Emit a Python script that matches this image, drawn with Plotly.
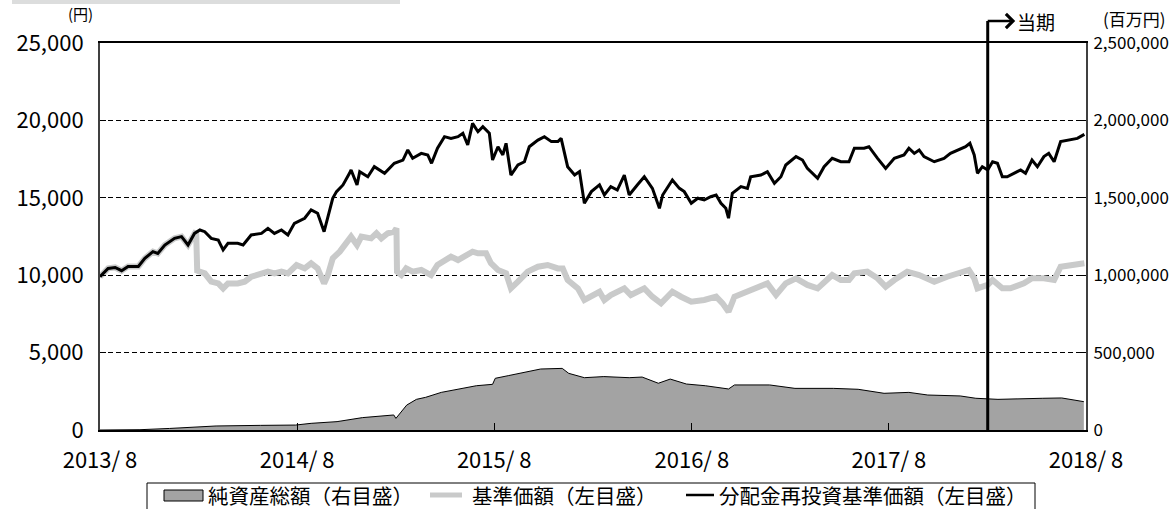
import plotly.graph_objects as go

# ---------------- data ----------------
BLACK_DATES = [
    "2013-08-01", "2013-08-16", "2013-08-29", "2013-09-10", "2013-09-22", "2013-10-11", "2013-10-23",
    "2013-11-07", "2013-11-16", "2013-11-29", "2013-12-17", "2013-12-30",
    "2014-01-11", "2014-01-23", "2014-02-02", "2014-02-11", "2014-02-23", "2014-03-08", "2014-03-17",
    "2014-03-26", "2014-04-13", "2014-04-23", "2014-05-08", "2014-05-27", "2014-06-08", "2014-06-20",
    "2014-07-03", "2014-07-15", "2014-07-27", "2014-08-15", "2014-08-27", "2014-09-08", "2014-09-20",
    "2014-09-27", "2014-10-06", "2014-10-13", "2014-10-25", "2014-11-06", "2014-11-09", "2014-11-20",
    "2014-11-25", "2014-12-10", "2014-12-22",
    "2015-01-10", "2015-01-28", "2015-02-13", "2015-02-22", "2015-03-03", "2015-03-19", "2015-03-31",
    "2015-04-07", "2015-04-18", "2015-05-01", "2015-05-13", "2015-05-26", "2015-06-04", "2015-06-13",
    "2015-06-22", "2015-07-02", "2015-07-11", "2015-07-23", "2015-07-29", "2015-08-08", "2015-08-17",
    "2015-08-23", "2015-09-01", "2015-09-14", "2015-09-26", "2015-10-05", "2015-10-21", "2015-11-02",
    "2015-11-15", "2015-11-27", "2015-12-03", "2015-12-15", "2015-12-28",
    "2016-01-06", "2016-01-15", "2016-01-28", "2016-02-12", "2016-02-21", "2016-03-04", "2016-03-16",
    "2016-03-29", "2016-04-07", "2016-04-22", "2016-05-05", "2016-05-20", "2016-06-02", "2016-06-08",
    "2016-06-26", "2016-07-09", "2016-07-18", "2016-07-31", "2016-08-12", "2016-08-24", "2016-09-05",
    "2016-09-15", "2016-09-24", "2016-10-03", "2016-10-08", "2016-10-15", "2016-10-31", "2016-11-12",
    "2016-11-18", "2016-12-07", "2016-12-19",
    "2017-01-01", "2017-01-13", "2017-01-22", "2017-02-10", "2017-02-22", "2017-03-03", "2017-03-22",
    "2017-04-03", "2017-04-18", "2017-05-04", "2017-05-19", "2017-05-29", "2017-06-16", "2017-06-25",
    "2017-07-11", "2017-07-26", "2017-08-11", "2017-08-29", "2017-09-07", "2017-09-17", "2017-09-26",
    "2017-10-05", "2017-10-24", "2017-11-11", "2017-11-23", "2017-12-09", "2017-12-21", "2017-12-29",
    "2018-01-06", "2018-01-12", "2018-01-21", "2018-01-31", "2018-02-09", "2018-02-18", "2018-02-27",
    "2018-03-08", "2018-03-21", "2018-04-02", "2018-04-11", "2018-04-23", "2018-05-03", "2018-05-15",
    "2018-05-24", "2018-06-03", "2018-06-15", "2018-07-03", "2018-07-16", "2018-07-29",
]
# 分配金再投資基準価額 (円)
BLACK_VALUES = [
    9900, 10440, 10500, 10290, 10570, 10570, 11090, 11520, 11410, 11950, 12380, 12490,
    11950, 12700, 12920, 12810, 12380, 12270, 11630, 12060, 12060, 11950, 12600, 12700, 13030, 12700,
    12920, 12600, 13350, 13680, 14220, 14000, 12810, 13680, 14970, 15400, 15830, 16580, 16800, 15830,
    16690, 16360, 17010,
    16580, 17230, 17440, 18090, 17550, 17870, 17770, 17230, 18200, 18950, 18840, 18950, 19170, 18410,
    19810, 19270, 19590, 19170, 17440, 18300, 17770, 18520, 16470, 17120, 17330, 18300, 18730, 18950,
    18630, 18630, 18840, 17010, 16470,
    16690, 14650, 15400, 15830, 15180, 15720, 15500, 16470, 15180, 15830, 16360, 15610, 14320, 15180,
    16150, 15610, 15400, 14650, 14970, 14860, 15070, 15180, 14650, 14320, 13680, 15290, 15720, 15610,
    16360, 16470, 16690,
    15940, 16360, 17120, 17660, 17440, 16900, 16260, 17010, 17550, 17330, 17330, 18200, 18200, 18300,
    17550, 16900, 17550, 17770, 18200, 17870, 18090, 17660, 17330, 17550, 17870, 18090, 18300, 18520,
    17770, 16580, 17010, 16800, 17330, 17230, 16360, 16360, 16580, 16800, 16580, 17440, 17010, 17660,
    17870, 17330, 18630, 18730, 18840, 19100,
]

GRAY_DATES = [
    "2013-08-01", "2013-08-16", "2013-08-29", "2013-09-10", "2013-09-22", "2013-10-11", "2013-10-23",
    "2013-11-07", "2013-11-16", "2013-11-29", "2013-12-17", "2013-12-30",
    "2014-01-11", "2014-01-23", "2014-01-26", "2014-01-28", "2014-02-11", "2014-02-23", "2014-03-08",
    "2014-03-17", "2014-03-26", "2014-04-13", "2014-04-26", "2014-05-08", "2014-05-27", "2014-06-08",
    "2014-06-20", "2014-07-03", "2014-07-15", "2014-07-31", "2014-08-15", "2014-08-27", "2014-09-08",
    "2014-09-20", "2014-09-27", "2014-10-06", "2014-10-19", "2014-11-06", "2014-11-09", "2014-11-20",
    "2014-11-28", "2014-12-16", "2014-12-26",
    "2015-01-04", "2015-01-16", "2015-01-28", "2015-02-01", "2015-02-02", "2015-02-10", "2015-02-19",
    "2015-03-03", "2015-03-19", "2015-04-06", "2015-04-18", "2015-05-01", "2015-05-13", "2015-05-26",
    "2015-06-07", "2015-06-22", "2015-07-02", "2015-07-17", "2015-07-26", "2015-08-08", "2015-08-23",
    "2015-09-01", "2015-09-14", "2015-10-02", "2015-10-21", "2015-11-08", "2015-11-27", "2015-12-06",
    "2015-12-15",
    "2016-01-03", "2016-01-15", "2016-01-31", "2016-02-12", "2016-02-21", "2016-03-04", "2016-03-29",
    "2016-04-10", "2016-05-05", "2016-05-20", "2016-06-05", "2016-06-26", "2016-07-12", "2016-07-31",
    "2016-08-24", "2016-09-15", "2016-09-27", "2016-10-08", "2016-10-19", "2016-11-12", "2016-12-01",
    "2016-12-19",
    "2017-01-04", "2017-01-22", "2017-02-10", "2017-03-03", "2017-03-22", "2017-04-18", "2017-05-04",
    "2017-05-19", "2017-05-29", "2017-06-22", "2017-07-11", "2017-07-26", "2017-08-11", "2017-09-04",
    "2017-09-26", "2017-10-24", "2017-11-17", "2017-12-09", "2017-12-27",
    "2018-01-06", "2018-01-12", "2018-01-31", "2018-02-09", "2018-02-27", "2018-03-14", "2018-04-08",
    "2018-04-23", "2018-05-15", "2018-06-03", "2018-06-15", "2018-07-10", "2018-07-29",
]
# 基準価額 (円)
GRAY_VALUES = [
    9900, 10440, 10500, 10290, 10570, 10570, 11090, 11520, 11410, 11950, 12380, 12490,
    11950, 12700, 12850, 10290, 10120, 9580, 9470, 9150, 9470, 9470, 9580, 9900, 10120, 10230,
    10120, 10230, 10120, 10660, 10440, 10770, 10440, 9470, 10010, 11090, 11520, 12270, 12490, 11950,
    12490, 12380, 12710,
    12380, 12710, 12810, 13030, 10230, 10010, 10440, 10230, 10340, 10010, 10660, 10980, 11200, 10980,
    11200, 11520, 11410, 11410, 10770, 10340, 10120, 9150, 9580, 10230, 10550, 10660, 10440, 10440,
    9690,
    9150, 8400, 8720, 8930, 8400, 8720, 9150, 8720, 9150, 8610, 8180, 8930, 8610, 8290,
    8400, 8610, 8180, 7640, 8610, 8930, 9150, 9470,
    8720, 9470, 9800, 9370, 9150, 10010, 9690, 9690, 10120, 10230, 9800, 9260, 9690, 10230,
    10010, 9580, 9900, 10120, 10340,
    9800, 9150, 9370, 9690, 9150, 9150, 9470, 9800, 9800, 9690, 10550, 10660, 10770,
]

NAV_DATES = [
    "2013-08-01", "2013-10-14", "2013-12-08", "2014-03-04", "2014-05-25", "2014-07-29", "2014-08-27",
    "2014-10-14", "2014-11-30", "2015-01-27", "2015-01-31", "2015-02-08", "2015-02-20", "2015-03-10",
    "2015-03-27", "2015-04-25", "2015-05-25", "2015-06-29", "2015-07-29", "2015-08-03", "2015-08-27",
    "2015-10-01", "2015-10-26", "2015-12-05", "2015-12-17", "2016-01-15", "2016-02-20", "2016-04-07",
    "2016-05-01", "2016-05-31", "2016-06-22", "2016-07-22", "2016-08-26", "2016-10-08", "2016-10-19",
    "2016-12-23", "2017-02-08", "2017-04-20", "2017-06-05", "2017-07-23", "2017-09-07", "2017-10-12",
    "2017-12-11", "2018-01-09", "2018-02-19", "2018-05-13", "2018-06-17", "2018-07-28",
]
# 純資産総額 (百万円)
NAV_VALUES = [
    0, 2000, 10000, 26000, 30000, 32000, 43000,
    54000, 80000, 97000, 75000, 108000, 161000, 198000,
    211000, 243000, 263000, 286000, 295000, 334000, 351000,
    377000, 394000, 398000, 366000, 338000, 345000, 338000,
    342000, 302000, 329000, 297000, 286000, 265000, 291000,
    291000, 269000, 269000, 263000, 237000, 243000, 226000,
    220000, 205000, 198000, 205000, 207000, 183000,
]

PERIOD_START = "2018-01-31"  # 当期 の開始

X_TICKS = ["2013-08-01", "2014-08-01", "2015-08-01", "2016-08-01", "2017-08-01", "2018-08-01"]
X_TICK_LABELS = ["2013/ 8", "2014/ 8", "2015/ 8", "2016/ 8", "2017/ 8", "2018/ 8"]
Y_TICKS = [0, 5000, 10000, 15000, 20000, 25000]
Y_TICK_LABELS = ["0", "5,000", "10,000", "15,000", "20,000", "25,000"]
Y2_TICKS = [0, 500000, 1000000, 1500000, 2000000, 2500000]
Y2_TICK_LABELS = ["0", "500,000", "1,000,000", "1,500,000", "2,000,000", "2,500,000"]

NAMES = ["純資産総額（右目盛）", "基準価額（左目盛）", "分配金再投資基準価額（左目盛）"]

# ---------------- figure ----------------
FONT = "Noto Sans CJK JP"
AREA_FILL = "#a3a3a3"
GRAY = "#c9caca"

# plot area in pixels (for placing decorations in paper coordinates)
L, R, T, B = 100, 1086, 43, 430
PW, PH = R - L, B - T


def px(xp):
    return (xp - L) / PW


def py(yp):
    return (B - yp) / PH


fig = go.Figure()
fig.add_trace(go.Scatter(
    x=NAV_DATES, y=NAV_VALUES, name=NAMES[0], yaxis="y2", mode="lines",
    fill="tozeroy", fillcolor=AREA_FILL, line=dict(color="#000000", width=1),
))
fig.add_trace(go.Scatter(
    x=GRAY_DATES, y=GRAY_VALUES, name=NAMES[1], mode="lines",
    line=dict(color=GRAY, width=6),
))
fig.add_trace(go.Scatter(
    x=BLACK_DATES, y=BLACK_VALUES, name=NAMES[2], mode="lines",
    line=dict(color="#000000", width=3),
))

TOP_Y = py(21)  # top of the 当期 marker (above the plot frame)

fig.add_shape(type="line", xref="x", yref="paper", x0=PERIOD_START, x1=PERIOD_START,
              y0=0, y1=TOP_Y, line=dict(color="#000000", width=3), layer="above")
fig.add_annotation(
    x=PERIOD_START, y=TOP_Y, xref="x", yref="paper", text="当期",
    showarrow=True, ax=48, ay=0, arrowside="start", startarrowhead=4,
    startarrowsize=1.1, arrowwidth=2.5, arrowcolor="#000000",
    font=dict(family=FONT, size=19, color="#000000"),
)
fig.add_annotation(x=px(80), y=py(14), xref="paper", yref="paper", text="(円)",
                   xanchor="center", yanchor="middle",
                   showarrow=False, font=dict(family=FONT, size=15, color="#000000"))
fig.add_annotation(x=px(1134), y=py(18), xref="paper", yref="paper", text="(百万円)",
                   xanchor="center", yanchor="middle",
                   showarrow=False, font=dict(family=FONT, size=17, color="#000000"))
# gray band at the top left of the page
fig.add_shape(type="rect", xref="paper", yref="paper", x0=px(12), x1=px(400),
              y0=py(4), y1=py(-2), fillcolor="#dcdddd", line=dict(width=0), layer="above")

# ---------- legend (drawn as a boxed row under the chart) ----------
LEG_FONT = dict(family=FONT, size=20.5, color="#000000")
LEG_Y = py(495)
fig.add_shape(type="rect", xref="paper", yref="paper", x0=px(147), x1=px(1035),
              y0=py(514), y1=py(483), line=dict(color="#000000", width=1),
              fillcolor="rgba(0,0,0,0)", layer="above")
fig.add_shape(type="rect", xref="paper", yref="paper", x0=px(164), x1=px(203),
              y0=py(501), y1=py(490), fillcolor=AREA_FILL,
              line=dict(color="#000000", width=1), layer="above")
fig.add_shape(type="line", xref="paper", yref="paper", x0=px(430), x1=px(462),
              y0=LEG_Y, y1=LEG_Y, line=dict(color=GRAY, width=5), layer="above")
fig.add_shape(type="line", xref="paper", yref="paper", x0=px(686), x1=px(714),
              y0=LEG_Y, y1=LEG_Y, line=dict(color="#000000", width=2.5), layer="above")
for txt, x0 in zip(NAMES, [206, 470, 717]):
    fig.add_annotation(x=px(x0), y=LEG_Y, xref="paper", yref="paper", text=txt,
                       showarrow=False, xanchor="left", yanchor="middle", font=LEG_FONT)

AX_COMMON = dict(automargin=False, zeroline=False)

fig.update_layout(
    template="none",
    width=1176, height=509,
    margin=dict(l=L, r=1176 - R, t=T, b=509 - B, pad=0, autoexpand=False),
    paper_bgcolor="#ffffff", plot_bgcolor="#ffffff",
    font=dict(family=FONT, color="#000000"),
    showlegend=False,
    xaxis=dict(
        type="date", range=["2013-08-01", "2018-08-01"],
        tickmode="array", tickvals=X_TICKS, ticktext=X_TICK_LABELS,
        ticks="inside", ticklen=7, tickcolor="#000000", tickwidth=1,
        showline=True, linecolor="#000000", linewidth=2, mirror=True,
        showgrid=False,
        tickfont=dict(family=FONT, size=22, color="#000000"), ticklabelstandoff=10,
        **AX_COMMON,
    ),
    yaxis=dict(
        range=[0, 25000], tickmode="array", tickvals=Y_TICKS, ticktext=Y_TICK_LABELS,
        ticks="inside", ticklen=6, tickcolor="#000000", tickwidth=1,
        showline=True, linecolor="#404040", linewidth=2,
        showgrid=True, gridcolor="#000000", gridwidth=1, griddash="5px,3px",
        tickfont=dict(family=FONT, size=22, color="#000000"), ticklabelstandoff=10,
        **AX_COMMON,
    ),
    yaxis2=dict(
        range=[0, 2500000], overlaying="y", side="right",
        tickmode="array", tickvals=Y2_TICKS, ticktext=Y2_TICK_LABELS,
        ticks="inside", ticklen=6, tickcolor="#000000", tickwidth=1,
        showline=True, linecolor="#404040", linewidth=2,
        showgrid=False,
        tickfont=dict(family=FONT, size=17, color="#000000"), ticklabelstandoff=2,
        **AX_COMMON,
    ),
)

fig.write_html(
    "out.html",
    config={"displayModeBar": False},
    post_script="document.body.style.margin='0';document.body.style.overflow='hidden';",
)
